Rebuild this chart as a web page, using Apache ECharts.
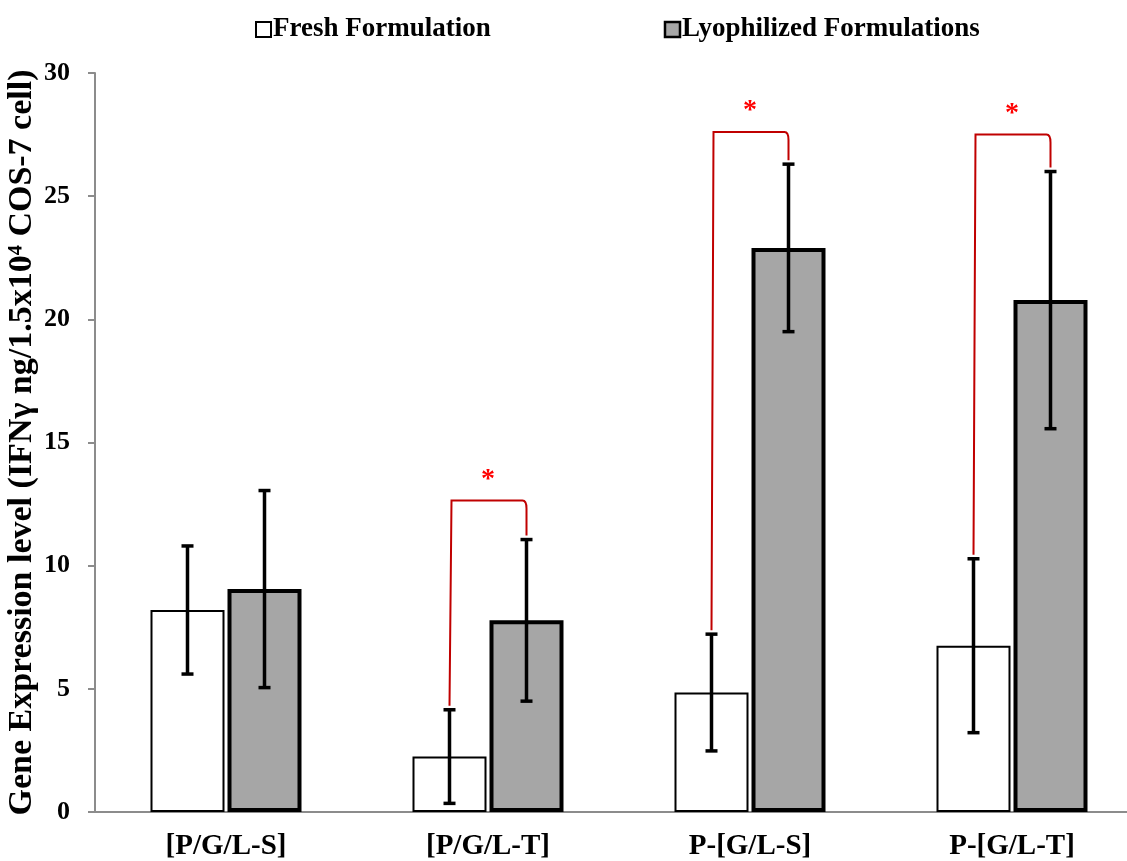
<!DOCTYPE html>
<html>
<head>
<meta charset="utf-8">
<script src="https://cdn.jsdelivr.net/npm/echarts@6.0.0/dist/echarts.min.js"></script>
<style>
  html, body { margin: 0; padding: 0; background: #fff; }
  #chart { width: 1127px; height: 861px; }
</style>
</head>
<body>
<div id="chart"></div>
<script>
// ── data ──
var categories = ['[P/G/L-S]', '[P/G/L-T]', 'P-[G/L-S]', 'P-[G/L-T]'];
var freshValues = [8.2, 2.25, 4.85, 6.75];
var freshErrors = [2.6, 1.9, 2.37, 3.53];
var lyoValues = [9.05, 7.78, 22.9, 20.78];
var lyoErrors = [4.0, 3.28, 3.4, 5.22];
var yTicks = [0, 5, 10, 15, 20, 25, 30];
// significance brackets: category index and bracket height
var sigCategories = [1, 2, 3];
var sigHeights = [12.65, 27.6, 27.5];

var FONT = '"Liberation Serif", "Times New Roman", serif';
var BAR_W = 74;
var BAR_GAP = 3;
var OFFSET = (BAR_W + BAR_GAP) / 2;

var chart = echarts.init(document.getElementById('chart'));

function errorItem(offset, values, errors) {
    return function (params, api) {
        var i = params.dataIndex;
        var x = api.coord([i, 0])[0] + offset;
        var top = api.coord([i, values[i] + errors[i]])[1];
        var bot = api.coord([i, values[i] - errors[i]])[1];
        var st = { stroke: '#000', lineWidth: 3.5 };
        return {
            type: 'group',
            children: [
                { type: 'line', shape: { x1: x, y1: top, x2: x, y2: bot }, style: st },
                { type: 'line', shape: { x1: x - 6, y1: top, x2: x + 6, y2: top }, style: st },
                { type: 'line', shape: { x1: x - 6, y1: bot, x2: x + 6, y2: bot }, style: st },
            ],
        };
    };
}

function bracketItem(params, api) {
    var k = params.dataIndex;
    var i = sigCategories[k];
    var cx = api.coord([i, 0])[0];
    var x1 = cx - OFFSET;
    var x2 = cx + OFFSET;
    var y1 = api.coord([i, freshValues[i] + freshErrors[i]])[1] - 4;
    var y2 = api.coord([i, lyoValues[i] + lyoErrors[i]])[1] - 4;
    var yh = api.coord([i, sigHeights[k]])[1];
    var r = 8;
    var path = 'M' + x1 + ' ' + y1 + ' L' + (x1 + 2) + ' ' + yh +
        ' L' + (x2 - 4) + ' ' + yh +
        ' Q' + x2 + ' ' + yh + ' ' + x2 + ' ' + (yh + r) +
        ' L' + x2 + ' ' + y2;
    return {
        type: 'group',
        children: [
            {
                type: 'path',
                shape: { pathData: path },
                style: { stroke: '#c00000', lineWidth: 2, fill: null },
            },
            {
                type: 'text',
                x: cx,
                y: yh - 21,
                style: {
                    text: '*', fill: '#ff0000', font: 'bold 28px ' + FONT,
                    align: 'center', verticalAlign: 'middle',
                },
            },
        ],
    };
}

chart.setOption({
    animation: false,
    backgroundColor: '#fff',
    legend: {
        top: 11,
        left: 250,
        itemGap: 173,
        itemWidth: 15,
        itemHeight: 15,
        icon: 'rect',
        textStyle: { fontFamily: FONT, fontWeight: 'bold', fontSize: 27, color: '#000', padding: [0, 0, 0, -3] },
        data: [
            { name: 'Fresh Formulation', itemStyle: { color: '#fff', borderColor: '#000', borderWidth: 2 } },
            { name: 'Lyophilized Formulations', itemStyle: { color: '#a6a6a6', borderColor: '#000', borderWidth: 2.5 } },
        ],
    },
    grid: { left: 95, width: 1048, top: 73, bottom: 49, containLabel: false, outerBoundsMode: 'none' },
    xAxis: {
        type: 'category',
        data: categories,
        axisLine: { lineStyle: { color: '#8c8c8c', width: 2 } },
        axisTick: { show: false },
        axisLabel: { fontFamily: FONT, fontWeight: 'bold', fontSize: 29, color: '#000', margin: 20 },
    },
    yAxis: {
        type: 'value',
        min: 0,
        max: 30,
        interval: 5,
        name: 'Gene Expression level (IFNγ ng/1.5x10\u2074 COS-7 cell)',
        nameLocation: 'middle',
        nameGap: 56,
        nameMoveOverlap: false,
        nameTextStyle: { fontFamily: FONT, fontWeight: 'bold', fontSize: 34, color: '#000' },
        axisLine: { show: true, lineStyle: { color: '#8c8c8c', width: 2 } },
        axisTick: { show: true, inside: false, length: 7, lineStyle: { color: '#8c8c8c', width: 2 } },
        splitLine: { show: false },
        axisLabel: {
            fontFamily: FONT, fontWeight: 'bold', fontSize: 26, color: '#000', margin: 25,
            formatter: function (v) { return yTicks.indexOf(v) >= 0 ? String(v) : ''; },
        },
    },
    series: [
        {
            name: 'Fresh Formulation',
            type: 'bar',
            data: freshValues,
            barWidth: BAR_W,
            barGap: (BAR_GAP / BAR_W * 100) + '%',
            itemStyle: { color: '#fff', borderColor: '#000', borderWidth: 2 },
        },
        {
            name: 'Lyophilized Formulations',
            type: 'bar',
            data: lyoValues,
            barWidth: BAR_W,
            itemStyle: { color: '#a6a6a6', borderColor: '#000', borderWidth: 4 },
        },
        {
            type: 'custom',
            data: freshValues.map(function (v, i) { return [i, v]; }),
            renderItem: errorItem(-OFFSET, freshValues, freshErrors),
            z: 5,
        },
        {
            type: 'custom',
            data: lyoValues.map(function (v, i) { return [i, v]; }),
            renderItem: errorItem(OFFSET, lyoValues, lyoErrors),
            z: 5,
        },
        {
            type: 'custom',
            data: sigCategories.map(function (c, k) { return [c, sigHeights[k]]; }),
            renderItem: bracketItem,
            z: 6,
        },
    ],
});

window.addEventListener('resize', function () { chart.resize(); });
</script>
</body>
</html>
